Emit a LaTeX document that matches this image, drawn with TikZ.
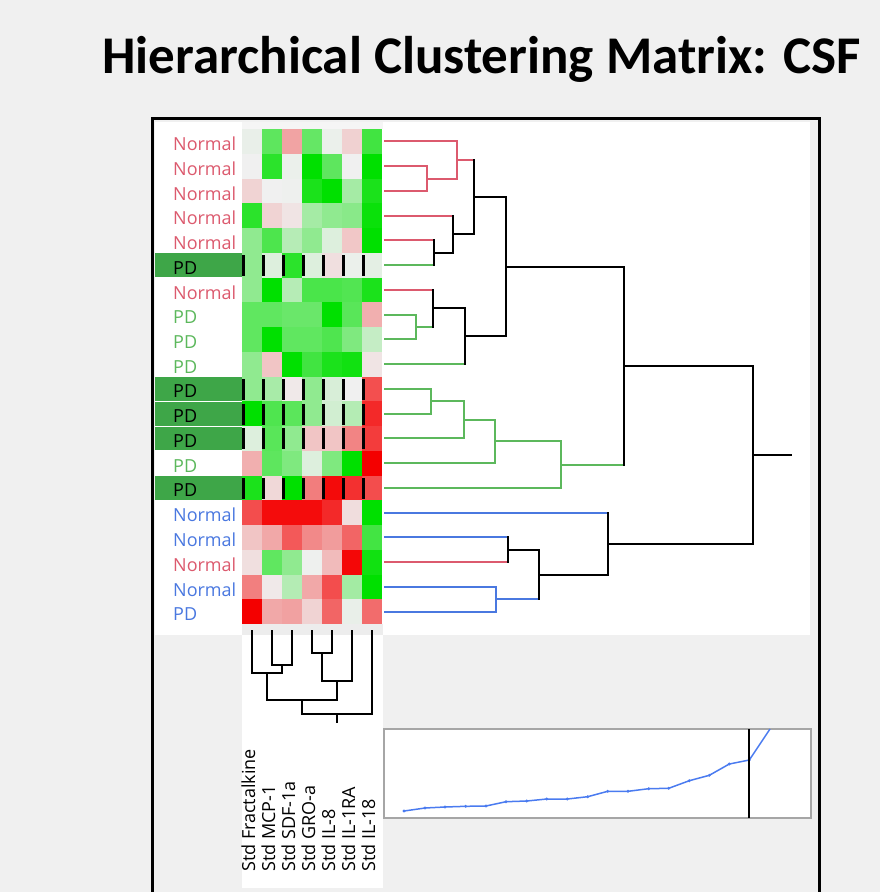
\documentclass[tikz,border=0pt]{standalone}
\usepackage{fontspec}
\setmainfont{Open Sans}
\newfontfamily\titlefont{Carlito}
\usetikzlibrary{positioning,calc}
\definecolor{bg}{HTML}{F0F0F0}
\definecolor{hmgreen}{RGB}{0,224,0}
\definecolor{hmred}{RGB}{244,0,0}
\definecolor{hmmid}{RGB}{240,240,240}
\definecolor{nred}{HTML}{DC5A6E}
\definecolor{ngreen}{HTML}{5CB85C}
\definecolor{nblue}{HTML}{4A78E0}
\definecolor{hilite}{RGB}{62,166,72}
\definecolor{trace}{HTML}{4A7BF0}

\tikzset{
  lab/.style={anchor=west,inner sep=0pt,font=\fontsize{18}{18}\selectfont},
  stdlab/.style={rotate=90,anchor=base west,inner sep=0pt,font=\fontsize{18}{18}\selectfont},
  br/.style={line width=2pt,line cap=rect},
  brk/.style={br,draw=black},
  brr/.style={br,draw=nred},
  brg/.style={br,draw=ngreen},
  brb/.style={br,draw=nblue},
  cbr/.style={line width=1.5pt,line cap=rect}
}
% merge of two row branches: merge, child a, colour a, child b, colour b, colour of the bar
\newcommand\rowjoin[6]{\draw[#3] (#2) -- (#2 -| #1); \draw[#5] (#4) -- (#4 -| #1); \draw[#6] (#2 -| #1) -- (#4 -| #1);}
% merge of two column branches
\newcommand\coljoin[3]{\draw[cbr] (#2) -- (#2 |- #1) -- (#3 |- #1) -- (#3);}

\begin{document}
\begin{tikzpicture}[x=1pt,y=-1pt]
  \useasboundingbox[fill=bg] (0,0) rectangle (880,892);
  \node[font=\titlefont\bfseries\fontsize{53}{53}\selectfont,anchor=base] (title) at (481.5,73) {Hierarchical Clustering Matrix: CSF};
  % panels
  \fill[white] (155,122) rectangle (810,635);
  \fill[white] (242,635) rectangle (383,888);
  \fill[black!4] (242,122) rectangle (383,129);
  \fill[black!7] (242,624) rectangle (383,635);
  \draw[line width=3pt] (152,900) -- (152,118) -- (819,118) -- (819,900);
  % heat map
  \foreach \vals [count=\r] in {
      {3,61,-32,58,2,-13,73},{0,82,2,100,61,0,100},{-12,0,1,89,100,31,89},
      {82,-12,-5,31,40,43,96},{40,68,24,40,8,-17,100},{40,8,82,8,-7,2,5},
      {40,100,24,69,69,66,89},{60,60,56,56,100,63,-27},{60,100,60,60,67,47,18},
      {40,-18,100,73,89,93,-5},{40,30,-3,40,10,0,-67},{100,67,62,40,13,25,-83},
      {8,63,40,-18,-18,-45,-75},{-27,61,47,8,47,100,-100},{89,-10,100,-48,-96,-80,-68},
      {-68,-95,-95,-95,-83,-8,100},{-18,-30,-63,-43,-35,-58,72},{-7,60,40,1,-22,-97,93},
      {-47,-3,25,-30,-68,32,100},{-100,-30,-33,-12,-58,3,-55}}{
    \foreach \v [count=\c] in \vals {
      \pgfmathtruncatemacro\p{abs(\v)}
      \ifnum\v<0 \def\cc{hmred!\p!hmmid}\else\def\cc{hmgreen!\p!hmmid}\fi
      \fill[\cc] (222+20*\c,104.25+24.75*\r) rectangle ++(20,24.75);
    }
  }
  % selected rows
  \foreach \r in {6,11,12,13,15}{
    \fill[hilite] (155,104.75+24.75*\r) rectangle (242,128.5+24.75*\r);
    \foreach \k in {0,...,6}{\fill[black] (241.5+20*\k,106.5+24.75*\r) rectangle ++(3,21);}
  }
  % row labels
  \foreach \lbl/\col [count=\i] in {Normal/nred,Normal/nred,Normal/nred,Normal/nred,Normal/nred,
      PD/black,Normal/nred,PD/ngreen,PD/ngreen,PD/ngreen,PD/black,PD/black,PD/black,PD/ngreen,
      PD/black,Normal/nblue,Normal/nblue,Normal/nred,Normal/nblue,PD/nblue}{
    \node[lab,text=\col] (row\i) at (173,119.125+24.75*\i) {\lbl};
    \coordinate (l\i) at (385,116.625+24.75*\i);
  }
  % row dendrogram
  \coordinate (A) at (427,178.5);   \coordinate (B) at (457,159.94);
  \coordinate (C) at (434,252.75);  \coordinate (D) at (453,234.19);
  \coordinate (E) at (474,197.06);  \coordinate (F) at (416,327);
  \coordinate (G) at (433,308.44);  \coordinate (H) at (465,336.28);
  \coordinate (I) at (506,266.67);  \coordinate (J) at (431,401.25);
  \coordinate (K) at (464,419.81);  \coordinate (L) at (495,441.47);
  \coordinate (M) at (561,464.67);  \coordinate (N) at (624,365.67);
  \coordinate (O) at (508,549.75);  \coordinate (P) at (496,599.25);
  \coordinate (Q) at (539,574.5);   \coordinate (R) at (608,543.56);
  \coordinate (S) at (753,454.6);   \coordinate (root) at (791,454.6);
  \rowjoin{A}{l2}{brr}{l3}{brr}{brr}
  \rowjoin{B}{l1}{brr}{A}{brr}{brr}
  \rowjoin{C}{l5}{brr}{l6}{brg}{brk}
  \rowjoin{D}{l4}{brr}{C}{brk}{brk}
  \rowjoin{E}{B}{brr}{D}{brk}{brk}
  \rowjoin{F}{l8}{brg}{l9}{brg}{brg}
  \rowjoin{G}{l7}{brr}{F}{brg}{brk}
  \rowjoin{H}{G}{brk}{l10}{brg}{brk}
  \rowjoin{I}{E}{brk}{H}{brk}{brk}
  \rowjoin{J}{l11}{brg}{l12}{brg}{brg}
  \rowjoin{K}{J}{brg}{l13}{brg}{brg}
  \rowjoin{L}{K}{brg}{l14}{brg}{brg}
  \rowjoin{M}{L}{brg}{l15}{brg}{brg}
  \rowjoin{N}{I}{brk}{M}{brg}{brk}
  \rowjoin{O}{l17}{brb}{l18}{brr}{brk}
  \rowjoin{P}{l19}{brb}{l20}{brb}{brb}
  \rowjoin{Q}{O}{brk}{P}{brb}{brk}
  \rowjoin{R}{l16}{brb}{Q}{brk}{brk}
  \rowjoin{S}{N}{brk}{R}{brk}{brk}
  \draw[brk] (S) -- (root);
  % column labels and dendrogram
  \foreach \lbl [count=\k] in {Fractalkine,MCP-1,SDF-1a,GRO-a,IL-8,IL-1RA,IL-18}{
    \node[stdlab] (std\k) at (235+20*\k,872) {Std \lbl};
    \coordinate (c\k) at (232+20*\k,631);
  }
  \coordinate (cA) at (282,665); \coordinate (cB) at (267,673);
  \coordinate (cC) at (322,653); \coordinate (cD) at (337,681);
  \coordinate (cE) at (302,700); \coordinate (cF) at (337,714);
  \coordinate (ctop) at (337,722);
  \coljoin{cA}{c2}{c3}
  \coljoin{cB}{c1}{cA}
  \coljoin{cC}{c4}{c5}
  \coljoin{cD}{cC}{c6}
  \coljoin{cE}{cB}{cD}
  \coljoin{cF}{cE}{c7}
  \draw[cbr] (cF) -- (ctop);
  % distance graph
  \draw[draw=black!35,fill=white,line width=1.5pt] (384,729) rectangle (811,818);
  \draw[trace,line width=1.5pt] plot coordinates {(404,811) (425,808) (445,807) (465.7,806.3) (486,806)
      (506,801.7) (526.7,801) (546.7,799) (567.3,799) (587.7,796.7) (607.7,791.3) (628,791.3)
      (648.7,788.7) (668.7,788.3) (689.3,780.7) (709.3,775.3) (729.3,764) (749.3,760) (770,729)};
  \foreach \px/\py in {404/811,425/808,445/807,465.7/806.3,486/806,506/801.7,526.7/801,546.7/799,
      567.3/799,587.7/796.7,607.7/791.3,628/791.3,648.7/788.7,668.7/788.3,689.3/780.7,709.3/775.3,
      729.3/764,749.3/760}{\fill[trace] (\px,\py) circle (1.6pt);}
  \draw[line width=2pt] (749.3,729) -- (749.3,818);
\end{tikzpicture}
\end{document}
